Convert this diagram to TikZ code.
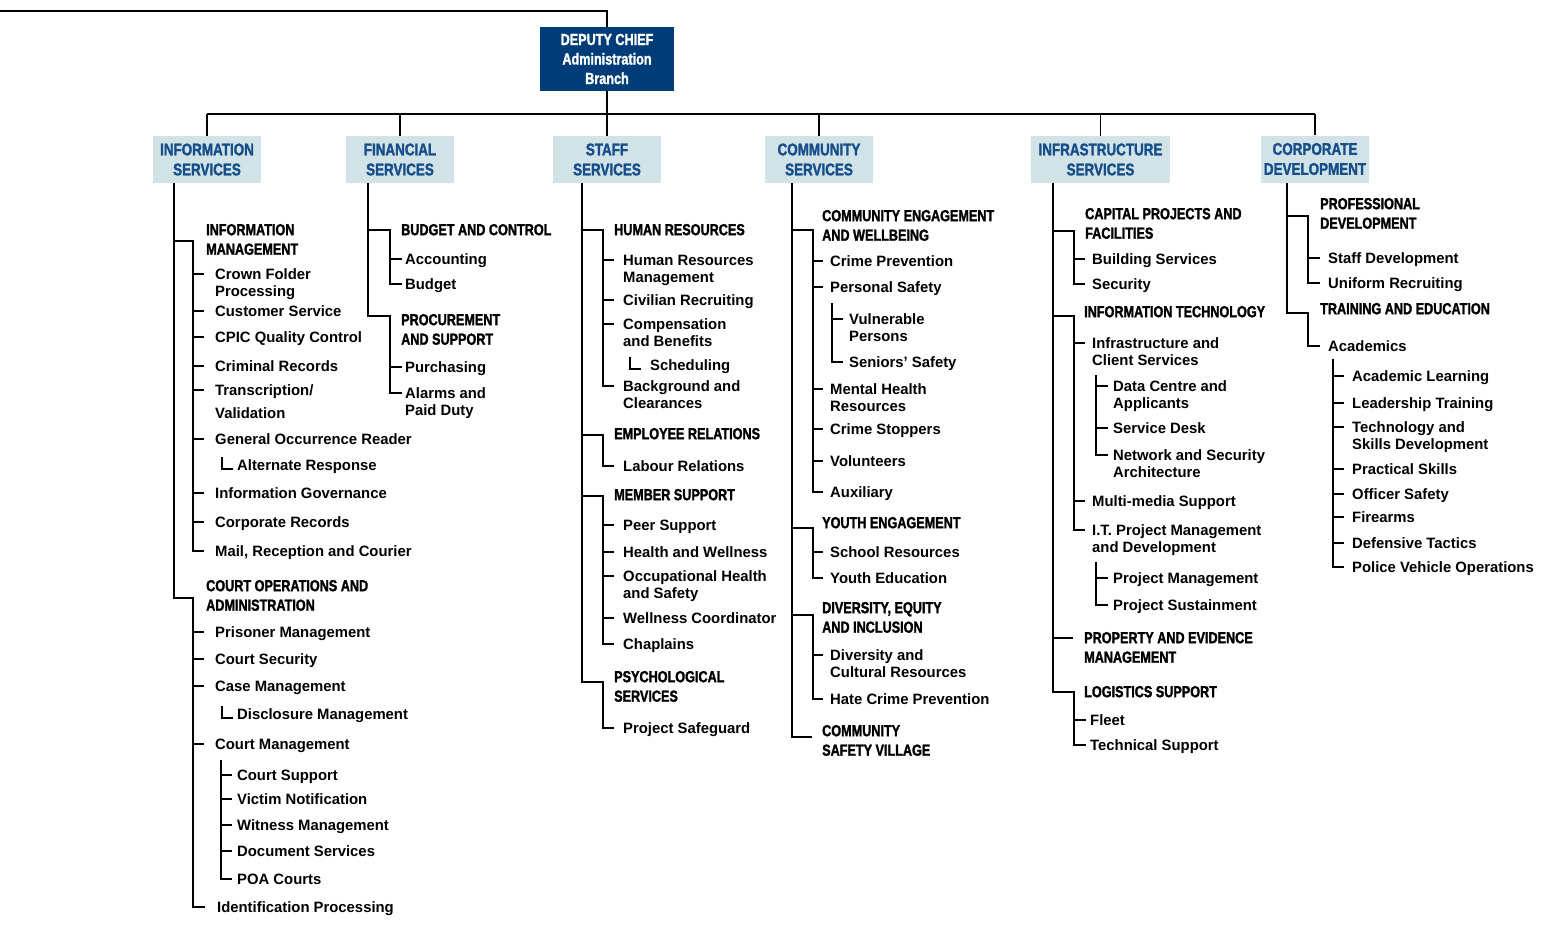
\documentclass[tikz,border=0pt]{standalone}
\usepackage{fontspec}
\setmainfont{Liberation Sans}
\newfontfamily\condf[FakeStretch=0.79,FakeBold=1.6,UprightFont={* Bold},BoldFont={* Bold}]{Liberation Sans}
\newfontfamily\itmf[FakeStretch=0.99]{Liberation Sans}
\usetikzlibrary{calc}
\definecolor{navy}{RGB}{0,60,120}
\definecolor{boxbg}{RGB}{210,227,231}
\definecolor{boxtx}{RGB}{22,78,138}
\tikzset{
 ln/.style={line width=1.4pt, black},
 topbox/.style={fill=navy, text=white, font=\condf\fontsize{16}{19.5}\selectfont, align=center, inner sep=0pt, minimum width=134pt, minimum height=64pt},
 svcbox/.style={fill=boxbg, text=boxtx, font=\condf\fontsize{17}{20}\selectfont, align=center, inner sep=0pt, minimum width=108pt, minimum height=47pt},
 hdt/.style={font=\condf\fontsize{16}{19.5}\selectfont, align=left, inner sep=0pt, anchor=north west},
 itt/.style={font=\itmf\bfseries\fontsize{15}{17}\selectfont, align=left, inner sep=0pt, anchor=north west},
}
% text nodes: name, x, y (centre of first line), text
\newcommand\nHD[4]{\node[hdt] (#1) at (#2,#3-7) {\rule{0pt}{12pt}#4}; \coordinate (#1L) at ($(#1.north west)+(0,7)$);}
\newcommand\nIT[4]{\node[itt] (#1) at (#2,#3-7) {\rule{0pt}{12pt}#4}; \coordinate (#1L) at ($(#1.north west)+(0,7)$);}
% tick: from x0 to x1 at the first line of node
\newcommand\cTK[3]{\draw[ln] (#1,0 |- #3L) -- (#2,0 |- #3L);}
% elbow: trunk x, y, sub x, last node, tick end
\newcommand\cEL[5]{\draw[ln] (#1,#2) -- (#3,#2) -- (#3,0 |- #4L) -- (#5,0 |- #4L);}
% sub line: x, top y, last node, tick end
\newcommand\cSB[4]{\draw[ln] (#1,#2) -- (#1,0 |- #3L) -- (#4,0 |- #3L);}
% small L before a node
\newcommand\cLL[2]{\draw[ln] ($(#1,0 |- #2L)+(0,-8)$) -- ($(#1,0 |- #2L)+(0,4)$) -- ($(#1,0 |- #2L)+(11,4)$);}
\begin{document}
\begin{tikzpicture}[x=1pt,y=-1pt]
\useasboundingbox (0,0) rectangle (1550,930);
% ---- top
\node[topbox] (dep) at (607,59) {DEPUTY CHIEF\\Administration\\Branch};
\coordinate (bus) at (0,114);
\draw[ln] (0,11) -- (607,11) -- (dep.north);
\node[svcbox] (info)  at (207,159.5) {INFORMATION\\SERVICES};
\node[svcbox] (fin)   at (400,159.5) {FINANCIAL\\SERVICES};
\node[svcbox] (staff) at (607,159.5) {STAFF\\SERVICES};
\node[svcbox] (comm)  at (819,159.5) {COMMUNITY\\SERVICES};
\node[svcbox, minimum width=139pt] (infra) at (1100.5,159.5) {INFRASTRUCTURE\\SERVICES};
\node[svcbox] (corp)  at (1315,159) {CORPORATE\\DEVELOPMENT};
\draw[ln] (dep.south) -- (staff.north);
\draw[ln] (info.north |- bus) -- (corp.north |- bus);
\foreach \b in {info,fin,comm,infra,corp} \draw[ln] (\b.north) -- (\b.north |- bus);

% ---- column 1: information services
\nHD{im}{206}{230}{INFORMATION\\MANAGEMENT}
\nIT{cf}{215}{274}{Crown Folder\\Processing}
\nIT{cs}{215}{311}{Customer Service}
\nIT{cpic}{215}{337}{CPIC Quality Control}
\nIT{crim}{215}{366}{Criminal Records}
\nIT{trans}{215}{390}{Transcription/\\[6pt]Validation}
\nIT{gor}{215}{439}{General Occurrence Reader}
\nIT{alt}{237}{465}{Alternate Response}
\nIT{ig}{215}{493}{Information Governance}
\nIT{corr}{215}{522}{Corporate Records}
\nIT{mail}{215}{551}{Mail, Reception and Courier}
\nHD{co}{206}{586}{COURT OPERATIONS AND\\ADMINISTRATION}
\nIT{pm}{215}{632}{Prisoner Management}
\nIT{csec}{215}{659}{Court Security}
\nIT{cm}{215}{686}{Case Management}
\nIT{dm}{237}{714}{Disclosure Management}
\nIT{cmg}{215}{744}{Court Management}
\nIT{csup}{237}{775}{Court Support}
\nIT{vn}{237}{799}{Victim Notification}
\nIT{wm}{237}{825}{Witness Management}
\nIT{ds}{237}{851}{Document Services}
\nIT{poa}{237}{879}{POA Courts}
\nIT{idp}{217}{907}{Identification Processing}
\draw[ln] (174,0 |- info.south) -- (174,598) -- (193,598) -- (193,0 |- idpL) -- (205,0 |- idpL);
\cEL{174}{241}{193}{mail}{204}
\foreach \n in {cf,cs,cpic,crim,trans,gor,ig,corr,pm,csec,cm,cmg} {\cTK{193}{204}{\n}}
\cLL{222}{alt}
\cLL{222}{dm}
\cSB{221}{760}{poa}{232}
\foreach \n in {csup,vn,wm,ds} {\cTK{221}{232}{\n}}

% ---- column 2: financial services
\nHD{bc}{401}{230}{BUDGET AND CONTROL}
\nIT{acc}{405}{259}{Accounting}
\nIT{bud}{405}{284}{Budget}
\nHD{ps}{401}{320}{PROCUREMENT\\AND SUPPORT}
\nIT{pur}{405}{367}{Purchasing}
\nIT{apd}{405}{393}{Alarms and\\Paid Duty}
\draw[ln] (368,0 |- fin.south) -- (368,316) -- (390,316) -- (390,0 |- apdL) -- (402,0 |- apdL);
\cEL{368}{230}{390}{bud}{402}
\cTK{390}{402}{acc}
\cTK{390}{402}{pur}

% ---- column 3: staff services
\nHD{hr}{614}{230}{HUMAN RESOURCES}
\nIT{hrm}{623}{260}{Human Resources\\Management}
\nIT{civ}{623}{300}{Civilian Recruiting}
\nIT{cb}{623}{324}{Compensation\\and Benefits}
\nIT{sch}{650}{365}{Scheduling}
\nIT{bg}{623}{386}{Background and\\Clearances}
\nHD{er}{614}{434}{EMPLOYEE RELATIONS}
\nIT{lr}{623}{466}{Labour Relations}
\nHD{ms}{614}{495}{MEMBER SUPPORT}
\nIT{peer}{623}{525}{Peer Support}
\nIT{hw}{623}{552}{Health and Wellness}
\nIT{ohs}{623}{576}{Occupational Health\\and Safety}
\nIT{wc}{623}{618}{Wellness Coordinator}
\nIT{chap}{623}{644}{Chaplains}
\nHD{psy}{614}{677}{PSYCHOLOGICAL\\SERVICES}
\nIT{psg}{623}{728}{Project Safeguard}
\draw[ln] (582,0 |- staff.south) -- (582,682) -- (603,682) -- (603,0 |- psgL) -- (614,0 |- psgL);
\cEL{582}{230}{603}{bg}{614}
\foreach \n in {hrm,civ,cb,peer,hw,ohs,wc} {\cTK{603}{614}{\n}}
\cLL{630}{sch}
\cEL{582}{435}{603}{lr}{614}
\cEL{582}{496}{603}{chap}{614}

% ---- column 4: community services
\nHD{ce}{822}{216}{COMMUNITY ENGAGEMENT\\AND WELLBEING}
\nIT{crp}{830}{261}{Crime Prevention}
\nIT{pers}{830}{287}{Personal Safety}
\nIT{vul}{849}{319}{Vulnerable\\Persons}
\nIT{sen}{849}{362}{Seniors’ Safety}
\nIT{mh}{830}{389}{Mental Health\\Resources}
\nIT{cst}{830}{429}{Crime Stoppers}
\nIT{vol}{830}{461}{Volunteers}
\nIT{aux}{830}{492}{Auxiliary}
\nHD{ye}{822}{523}{YOUTH ENGAGEMENT}
\nIT{sr}{830}{552}{School Resources}
\nIT{yed}{830}{578}{Youth Education}
\nHD{dei}{822}{608}{DIVERSITY, EQUITY\\AND INCLUSION}
\nIT{dcr}{830}{655}{Diversity and\\Cultural Resources}
\nIT{hcp}{830}{699}{Hate Crime Prevention}
\nHD{csv}{822}{731}{COMMUNITY\\SAFETY VILLAGE}
\draw[ln] (792,0 |- comm.south) -- (792,737) -- (812,737);
\cEL{792}{230}{813}{aux}{823}
\foreach \n in {crp,pers,mh,cst,vol,sr,dcr} {\cTK{813}{823}{\n}}
\cSB{832}{303}{sen}{843}
\cTK{832}{843}{vul}
\cEL{792}{528}{813}{yed}{823}
\cEL{792}{615}{813}{hcp}{823}

% ---- column 5: infrastructure services
\nHD{cpf}{1085}{214}{CAPITAL PROJECTS AND\\FACILITIES}
\nIT{bs}{1092}{259}{Building Services}
\nIT{sec}{1092}{284}{Security}
\nHD{it}{1084}{312}{INFORMATION TECHNOLOGY}
\nIT{ics}{1092}{343}{Infrastructure and\\Client Services}
\nIT{dca}{1113}{386}{Data Centre and\\Applicants}
\nIT{sd}{1113}{428}{Service Desk}
\nIT{nsa}{1113}{455}{Network and Security\\Architecture}
\nIT{mms}{1092}{501}{Multi-media Support}
\nIT{itpm}{1092}{530}{I.T. Project Management\\and Development}
\nIT{pmg}{1113}{578}{Project Management}
\nIT{psu}{1113}{605}{Project Sustainment}
\nHD{pem}{1084}{638}{PROPERTY AND EVIDENCE\\MANAGEMENT}
\nHD{ls}{1084}{692}{LOGISTICS SUPPORT}
\nIT{fleet}{1090}{720}{Fleet}
\nIT{tsup}{1090}{745}{Technical Support}
\draw[ln] (1053,0 |- infra.south) -- (1053,692) -- (1074,692) -- (1074,0 |- tsupL) -- (1086,0 |- tsupL);
\cTK{1074}{1086}{fleet}
\cEL{1053}{231}{1074}{sec}{1085}
\cEL{1053}{316}{1074}{itpm}{1085}
\foreach \n in {bs,ics,mms} {\cTK{1074}{1085}{\n}}
\cSB{1096}{375}{nsa}{1108}
\cSB{1096}{562}{psu}{1108}
\foreach \n in {dca,sd,pmg} {\cTK{1096}{1108}{\n}}
\cTK{1053}{1073}{pem}

% ---- column 6: corporate development
\nHD{pd}{1320}{204}{PROFESSIONAL\\DEVELOPMENT}
\nIT{sdev}{1328}{258}{Staff Development}
\nIT{ur}{1328}{283}{Uniform Recruiting}
\nHD{te}{1320}{309}{TRAINING AND EDUCATION}
\nIT{acad}{1328}{346}{Academics}
\nIT{al}{1352}{376}{Academic Learning}
\nIT{lt}{1352}{403}{Leadership Training}
\nIT{tsd}{1352}{427}{Technology and\\Skills Development}
\nIT{prs}{1352}{469}{Practical Skills}
\nIT{os}{1352}{494}{Officer Safety}
\nIT{fa}{1352}{517}{Firearms}
\nIT{dt}{1352}{543}{Defensive Tactics}
\nIT{pvo}{1352}{567}{Police Vehicle Operations}
\draw[ln] (1287,0 |- corp.south) -- (1287,313) -- (1308,313) -- (1308,0 |- acadL) -- (1320,0 |- acadL);
\cEL{1287}{216}{1308}{ur}{1320}
\cTK{1308}{1320}{sdev}
\cSB{1333}{359}{pvo}{1344}
\foreach \n in {al,lt,tsd,prs,os,fa,dt} {\cTK{1333}{1344}{\n}}
\end{tikzpicture}
\end{document}
